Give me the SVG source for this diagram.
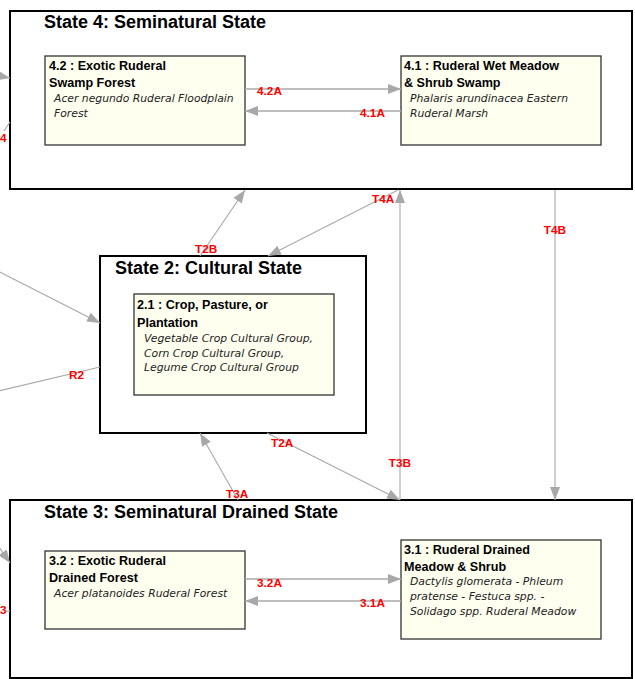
<svg xmlns="http://www.w3.org/2000/svg" width="635" height="679" viewBox="0 0 635 679">
<style>
.state{fill:#fff;stroke:#000;stroke-width:2}
.node{fill:#fffff0;stroke:#333;stroke-width:1.3}
.st{font-family:"Liberation Sans",Arial,sans-serif;font-weight:bold;font-size:18px;fill:#000}
.nt{font-family:"Liberation Sans",Arial,sans-serif;font-weight:bold;font-size:12.6px;fill:#000}
.it{font-family:"DejaVu Sans",Verdana,sans-serif;font-style:italic;font-size:10.8px;fill:#222}
.c{stroke:#a8a8a8;stroke-width:1.1;fill:none}
.h{stroke-width:1.6}
.lb{font-family:"Liberation Sans",Arial,sans-serif;font-weight:bold;font-size:11.8px;fill:#ff0000}
</style>
<defs>
<marker id="ah" markerUnits="userSpaceOnUse" markerWidth="14" markerHeight="11" refX="13" refY="5" orient="auto">
<path d="M0,0 L13,5 L0,10 z" fill="#a8a8a8"/>
</marker>
</defs>
<g id="state4">
<rect class="state" x="10" y="11" width="622" height="178"/>
<text class="st" x="44" y="28">State 4: Seminatural State</text>
</g>
<g id="state2">
<rect class="state" x="100" y="256" width="266" height="177"/>
<text class="st" x="115" y="274">State 2: Cultural State</text>
</g>
<g id="state3">
<rect class="state" x="10" y="500" width="622" height="178"/>
<text class="st" x="44" y="518">State 3: Seminatural Drained State</text>
</g>
<g id="node4_2">
<rect class="node" x="45" y="56" width="200" height="89"/>
<text class="nt" x="49" y="70">4.2 : Exotic Ruderal</text>
<text class="nt" x="49" y="87">Swamp Forest</text>
<text class="it" x="54" y="102">Acer negundo Ruderal Floodplain</text>
<text class="it" x="54" y="117">Forest</text>
</g>
<g id="node4_1">
<rect class="node" x="401" y="56" width="200" height="89"/>
<text class="nt" x="404" y="70">4.1 : Ruderal Wet Meadow</text>
<text class="nt" x="404" y="87">&amp; Shrub Swamp</text>
<text class="it" x="410" y="102">Phalaris arundinacea Eastern</text>
<text class="it" x="410" y="117">Ruderal Marsh</text>
</g>
<g id="node2_1">
<rect class="node" x="134" y="294" width="200" height="101"/>
<text class="nt" x="137" y="309">2.1 : Crop, Pasture, or</text>
<text class="nt" x="137" y="327">Plantation</text>
<text class="it" x="144" y="342">Vegetable Crop Cultural Group,</text>
<text class="it" x="144" y="357">Corn Crop Cultural Group,</text>
<text class="it" x="144" y="371">Legume Crop Cultural Group</text>
</g>
<g id="node3_2">
<rect class="node" x="45" y="551" width="200" height="78"/>
<text class="nt" x="49" y="565">3.2 : Exotic Ruderal</text>
<text class="nt" x="49" y="582">Drained Forest</text>
<text class="it" x="54" y="597">Acer platanoides Ruderal Forest</text>
</g>
<g id="node3_1">
<rect class="node" x="401" y="540" width="200" height="99"/>
<text class="nt" x="404" y="554">3.1 : Ruderal Drained</text>
<text class="nt" x="404" y="571">Meadow &amp; Shrub</text>
<text class="it" x="410" y="585">Dactylis glomerata - Phleum</text>
<text class="it" x="410" y="600">pratense - Festuca spp. -</text>
<text class="it" x="410" y="615">Solidago spp. Ruderal Meadow</text>
</g>
<g id="connectors">
<line class="c" x1="-20" y1="72" x2="10" y2="78" marker-end="url(#ah)"/>
<line class="c" x1="10" y1="122" x2="4" y2="131"/>
<line class="c" x1="-8" y1="537" x2="10" y2="563" marker-end="url(#ah)"/>
<line class="c" x1="6" y1="611" x2="10" y2="611"/>
<line class="c" x1="-10" y1="267" x2="100" y2="323" marker-end="url(#ah)"/>
<line class="c" x1="100" y1="367" x2="-10" y2="393"/>
<line class="c" x1="200" y1="256" x2="245" y2="190" marker-end="url(#ah)"/>
<line class="c" x1="398" y1="190" x2="268" y2="256" marker-end="url(#ah)"/>
<line class="c" x1="400" y1="500" x2="400" y2="190" marker-end="url(#ah)"/>
<line class="c" x1="555" y1="190" x2="555" y2="500" marker-end="url(#ah)"/>
<line class="c" x1="267" y1="433" x2="400" y2="500" marker-end="url(#ah)"/>
<line class="c" x1="238" y1="500" x2="200" y2="433" marker-end="url(#ah)"/>
<line class="c h" x1="245" y1="89" x2="401" y2="89" marker-end="url(#ah)"/>
<line class="c h" x1="401" y1="111" x2="245" y2="111" marker-end="url(#ah)"/>
<line class="c h" x1="245" y1="579" x2="401" y2="579" marker-end="url(#ah)"/>
<line class="c h" x1="401" y1="601" x2="245" y2="601" marker-end="url(#ah)"/>
<text class="lb" x="0" y="142">4</text>
<text class="lb" x="0" y="614">3</text>
<text class="lb" x="69" y="379">R2</text>
<text class="lb" x="195" y="253">T2B</text>
<text class="lb" x="372" y="203">T4A</text>
<text class="lb" x="400" y="467" text-anchor="middle">T3B</text>
<text class="lb" x="555" y="234" text-anchor="middle">T4B</text>
<text class="lb" x="271" y="447">T2A</text>
<text class="lb" x="226" y="498">T3A</text>
<text class="lb" x="257" y="95">4.2A</text>
<text class="lb" x="360" y="117">4.1A</text>
<text class="lb" x="257" y="587">3.2A</text>
<text class="lb" x="360" y="607">3.1A</text>
</g>
</svg>
